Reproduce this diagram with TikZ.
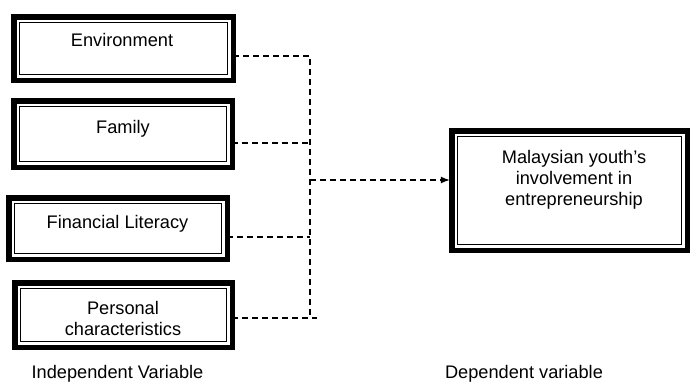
\documentclass[tikz,border=0pt]{standalone}
\usepackage{fontspec}
\setmainfont{Liberation Sans}
\usetikzlibrary{arrows.meta}
\tikzset{
  outbox/.style={draw=black, line width=5.5pt, outer sep=0pt, inner sep=0pt},
  inbox/.style={draw=black, line width=1.1pt},
  lbl/.style={font=\fontsize{18.2}{21}\selectfont, align=center, inner sep=0pt, anchor=base},
  dline/.style={draw=black, line width=1.2pt, dash pattern=on 6pt off 4pt},
}
\newcommand\dblbox[5]{%
  \node[outbox, minimum width=#4pt-5.5pt, minimum height=#5pt-5.5pt] (#1) at (#2,#3) {};
  \draw[inbox] ([shift={(5.75,5.75)}]#1.north west) rectangle ([shift={(-5.75,-5.75)}]#1.south east);}
\begin{document}
\begin{tikzpicture}[x=1pt,y=-1pt]
\useasboundingbox (0,0) rectangle (691,383);
% boxes (outer edges)
\dblbox{b1}{123.5}{48.5}{225}{69}
\dblbox{b2}{123}{134}{224}{72}
\dblbox{b3}{118}{228.5}{224}{67}
\dblbox{b4}{123.5}{315}{223}{70}
\dblbox{dep}{569.5}{190.5}{241}{125}
% texts (anchor base = last line baseline)
\node[lbl] (t1) at (122,46.5) {Environment};
\node[lbl] (t2) at (123,133) {Family};
\node[lbl] (t3) at (117.5,228) {Financial Literacy};
\node[lbl] (t4) at (123,335) {Personal\\characteristics};
\node[lbl] (t5) at (574,205) {Malaysian youth's\\involvement in\\entrepreneurship};
\node[lbl] (iv) at (117.5,378.5) {Independent Variable};
\node[lbl] (dv) at (524,378.5) {Dependent variable};
% connectors
\coordinate (j1) at (310,56);
\coordinate (j2) at (310,143);
\coordinate (j3) at (310,237);
\coordinate (j4) at (310,318);
\coordinate (j4e) at (317,318);
\coordinate (ja) at (310,180);
\draw[dline] (b1.east |- j1) -- (j1) -- (j4);
\draw[dline] (b2.east |- j2) -- (j2);
\draw[dline] (b3.east |- j3) -- (j3);
\draw[dline] (b4.east |- j4) -- (j4e);
\draw[dline, -{Latex[length=9pt,width=7pt]}] (ja) -- ([xshift=-2pt]dep.west |- ja);
\end{tikzpicture}
\end{document}
